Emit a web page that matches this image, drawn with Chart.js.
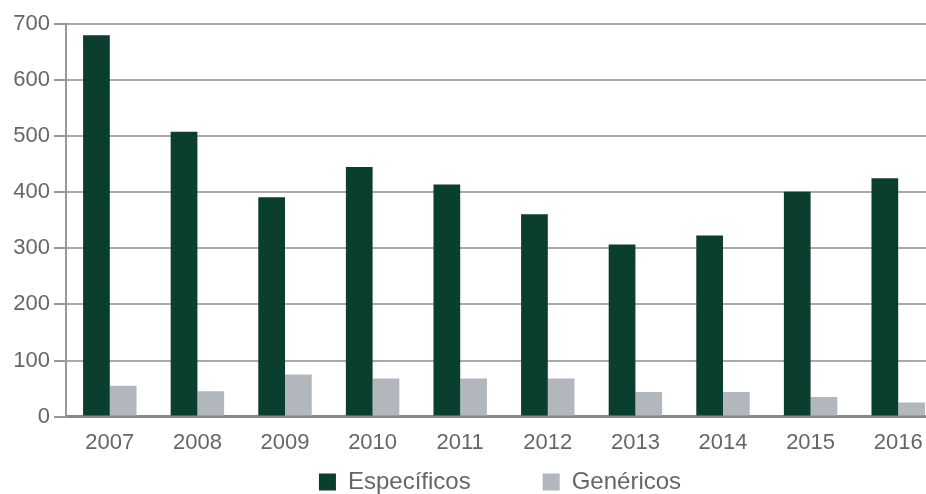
<!DOCTYPE html>
<html><head><meta charset="utf-8">
<script src="https://cdn.jsdelivr.net/npm/chart.js@4/dist/chart.umd.min.js"></script>
<style>html,body{margin:0;padding:0;background:#fff;overflow:hidden;width:926px;height:494px}
#wrap{width:942px;height:494px;position:relative}</style>
</head><body><div id="wrap"><canvas id="c" width="942" height="494"></canvas></div>
<script>
const years = ['2007','2008','2009','2010','2011','2012','2013','2014','2015','2016'];
const especificos = [680, 508, 391, 445, 414, 361, 307, 323, 401, 425];
const genericos = [55, 45, 75, 68, 68, 68, 44, 44, 35, 25];
const seriesNames = ['Específicos', 'Genéricos'];
const yTicks = [0,100,200,300,400,500,600,700];

const FONT = "'Liberation Sans', Arial, Helvetica, sans-serif";
const LEG_PAD = 12;

const legendPlacer = {
  id: 'legendPlacer',
  afterLayout(chart) {
    const lg = chart.legend;
    if (!lg) return;
    lg.left = 58;
    lg.right = 942;
    lg.top = 470 - LEG_PAD;
  }
};

new Chart(document.getElementById('c'), {
  type: 'bar',
  data: {
    labels: years,
    datasets: [
      {label: seriesNames[0], data: especificos, backgroundColor: '#0a3e2e', categoryPercentage: 0.61, barPercentage: 1.0},
      {label: seriesNames[1], data: genericos, backgroundColor: '#b1b7bd', categoryPercentage: 0.61, barPercentage: 1.0}
    ]
  },
  plugins: [legendPlacer],
  options: {
    responsive: false,
    animation: false,
    layout: {padding: {top: 24, right: 0, left: 0, bottom: -21}},
    plugins: {
      tooltip: {enabled: false},
      legend: {
        position: 'bottom',
        labels: {
          font: {family: FONT, size: 24},
          color: '#666',
          boxWidth: 17, boxHeight: 17,
          padding: LEG_PAD,
          generateLabels: (chart) => {
            const items = Chart.defaults.plugins.legend.labels.generateLabels(chart);
            items[0].text = items[0].text + '\u00a0'.repeat(9);
            return items;
          }
        }
      }
    },
    scales: {
      x: {
        offset: true,
        grid: {display: false, drawTicks: false},
        border: {display: true, color: '#888', width: 3},
        ticks: {font: {family: FONT, size: 22}, color: '#666', padding: 13}
      },
      y: {
        min: 0, max: 700,
        afterBuildTicks: (axis) => { axis.ticks = yTicks.map(v => ({value: v})); },
        afterFit: (axis) => { axis.width = 66; },
        grid: {color: '#aaa', lineWidth: 2, tickLength: 12, tickColor: '#999'},
        border: {display: true, color: '#999', width: 2},
        ticks: {font: {family: FONT, size: 22}, color: '#666', padding: 4}
      }
    }
  }
});
</script></body></html>
